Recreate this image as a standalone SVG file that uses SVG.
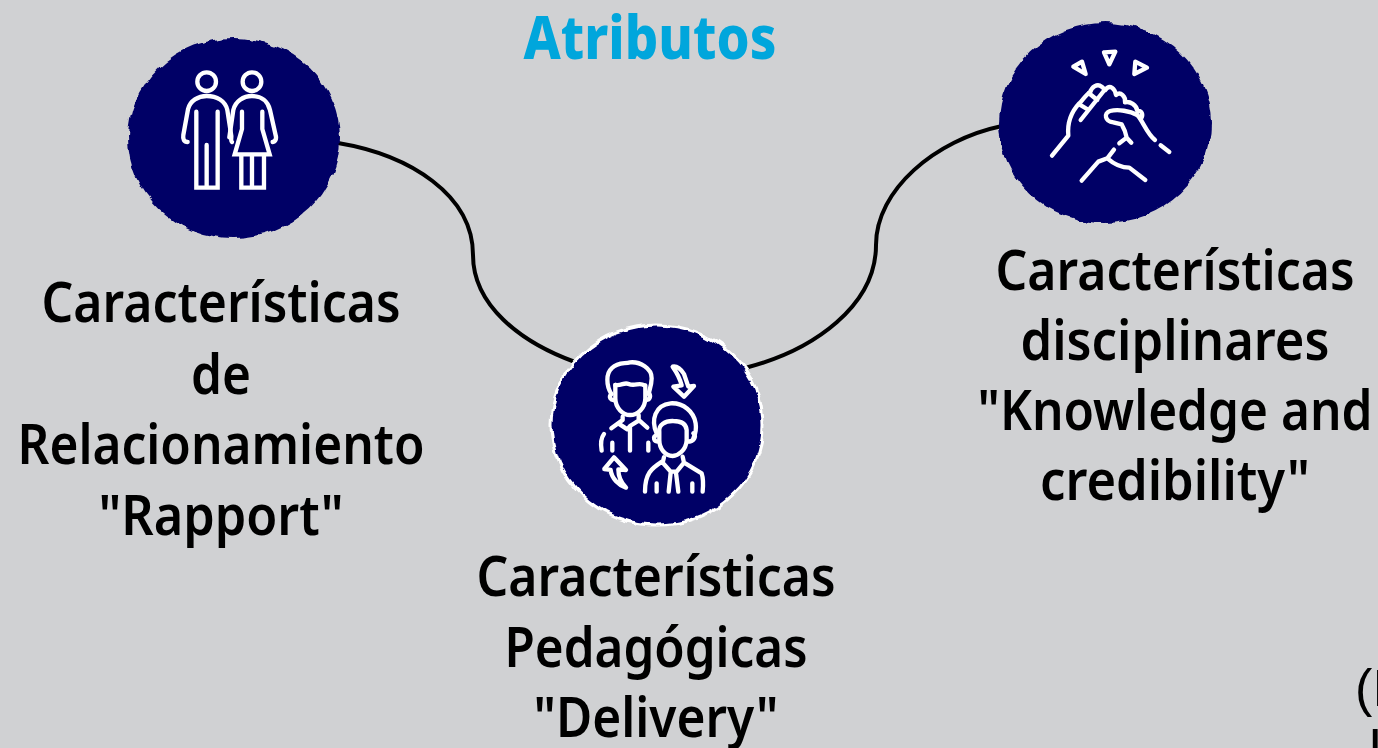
<svg xmlns="http://www.w3.org/2000/svg" width="1378" height="748" viewBox="0 0 1378 748">
<style>
.t{font-family:"Noto Sans","Open Sans",sans-serif;font-weight:600;font-size:56px;fill:#000;text-anchor:middle}
.title{font-family:"Noto Sans","Open Sans",sans-serif;font-weight:800;font-size:61px;fill:#00a6dc;text-anchor:middle}
.frag{font-family:"Liberation Sans",Arial,sans-serif;font-size:52px;fill:#000}
.blob{fill:#000066}
.ic{fill:none;stroke:#fff;stroke-width:13;stroke-linecap:round;stroke-linejoin:round}
.conn{fill:none;stroke:#000;stroke-width:4}
</style>
<defs>
<filter id="rough" x="-10%" y="-10%" width="120%" height="120%">
<feTurbulence type="fractalNoise" baseFrequency="0.07" numOctaves="2" seed="4"/>
<feDisplacementMap in="SourceGraphic" scale="7" xChannelSelector="R" yChannelSelector="G"/>
</filter>
</defs>
<rect width="1378" height="748" fill="#d0d1d3"/>
<text id="title" class="title" x="650" y="59" textLength="253" lengthAdjust="spacingAndGlyphs">Atributos</text>
<g id="connectors">
<path class="conn" d="M338,143 C410,155 473,195 473,255 C473,305 520,342 575,362"/>
<path class="conn" d="M745,368 C815,350 876,305 876,245 C876,190 935,140 1002,126"/>
</g>
<g id="node-rapport">
<ellipse class="blob" cx="234" cy="138" rx="106" ry="100" filter="url(#rough)"/>
<g class="ic" transform="translate(120,30) scale(.3333)">
<circle cx="260" cy="155" r="28"/>
<path d="M203,336 C192,336 188,328 190,315 L204,238 C210,212 235,198 260,198 C290,198 316,212 322,240 L334,318 C334,328 332,334 336,336"/>
<path d="M229,245 V473 H293 V245 M260,345 V470" stroke-linejoin="miter"/>
<circle cx="396" cy="155" r="28"/>
<path d="M328,322 L340,240 C346,214 370,198 396,198 C424,198 444,214 450,240 L468,320 C469,330 465,335 458,336"/>
<path d="M366,245 V297 L344,373 H449 L427,297 V245 M364,373 V473 H432 V373 M396,373 V470" stroke-linejoin="miter"/>
</g>
<text class="t" x="221" y="322" textLength="359" lengthAdjust="spacingAndGlyphs">Características</text>
<text class="t" x="221" y="394" textLength="60" lengthAdjust="spacingAndGlyphs">de</text>
<text class="t" x="221" y="464" textLength="407" lengthAdjust="spacingAndGlyphs">Relacionamiento</text>
<text class="t" x="221" y="535" textLength="245" lengthAdjust="spacingAndGlyphs">"Rapport"</text>
</g>
<g id="node-delivery">
<ellipse class="blob" cx="657" cy="425" rx="106" ry="100" stroke="#fff" stroke-width="3" filter="url(#rough)"/>
<g class="ic" transform="translate(540,320) scale(.3333)">
<path d="M214,222 C198,195 198,160 215,145 C235,125 252,132 270,127 C300,124 336,145 335,175 C335,195 328,210 326,222"/>
<path d="M226,195 C245,198 252,186 266,192 C285,200 298,186 313,196"/>
<path d="M226,195 V235 C226,265 250,285 270,285 C292,285 316,265 316,235 V196"/>
<path d="M214,222 C205,232 212,242 224,240 M326,218 C334,228 330,240 318,240"/>
<path d="M248,290 V300 L214,325 M296,285 V300 L322,323 M235,310 L262,328 L270,318 L296,302 M270,320 V392 M217,368 V392 M325,368 V392 M192,342 C182,355 182,375 185,392"/>
<path d="M398,140 C410,136 425,150 432,162 L445,200 L462,198 L432,230 L400,200 L425,196 C420,175 412,160 398,140Z"/>
<path d="M258,503 C235,495 215,475 212,450 L193,447 L222,412 L258,450 L235,448 C235,470 245,490 258,503Z"/>
<path d="M350,340 C332,300 345,255 392,250 C430,248 462,275 467,310 C470,330 465,345 460,355"/>
<path d="M358,335 C355,315 375,302 400,303 C420,303 438,310 440,330 V362 C438,390 415,408 398,408 C375,408 358,385 358,360Z"/>
<path d="M350,345 C338,350 340,365 356,365 M460,340 C470,350 462,365 442,365"/>
<path d="M372,412 L368,428 L392,455 L410,455 L432,428 L428,410 M366,425 C335,445 315,460 315,515 M436,430 L485,460 C490,475 490,495 488,515 M392,458 L386,515 M408,458 L415,515 M350,490 V515 M457,490 V515"/>
</g>
<text class="t" x="656" y="596" textLength="359" lengthAdjust="spacingAndGlyphs">Características</text>
<text class="t" x="656" y="667" textLength="303" lengthAdjust="spacingAndGlyphs">Pedagógicas</text>
<text class="t" x="656" y="737" textLength="245" lengthAdjust="spacingAndGlyphs">"Delivery"</text>
</g>
<g id="node-knowledge">
<ellipse class="blob" cx="1105" cy="123" rx="106" ry="100" filter="url(#rough)"/>
<g class="ic" transform="translate(990,15) scale(.3333)">
<path d="M250,155 L276,140 L287,177Z M342,112 L376,110 L358,148Z M436,140 L471,158 L433,177Z"/>
<path d="M186,422 L235,362 C232,330 240,295 268,265 C280,255 285,240 300,233 C305,215 322,205 335,215 L346,225 C360,205 375,222 378,240 C392,228 408,245 405,262 C420,258 440,270 442,288 C455,285 462,300 452,312"/>
<path d="M346,222 L272,315 M296,234 L322,255 M268,268 L296,285"/>
<path d="M442,300 C420,288 385,282 360,288 C340,295 345,320 370,322 L395,328 C405,345 408,355 410,368 L388,385 M410,368 L424,383"/>
<path d="M442,300 C460,320 470,355 495,375 M512,391 L538,411"/>
<path d="M372,404 L352,430 L325,440 L275,497 M352,430 C375,450 395,458 418,458 L466,495"/>
</g>
<text class="t" x="1175" y="290" textLength="359" lengthAdjust="spacingAndGlyphs">Características</text>
<text class="t" x="1175" y="360" textLength="309" lengthAdjust="spacingAndGlyphs">disciplinares</text>
<text class="t" x="1175" y="430" textLength="395" lengthAdjust="spacingAndGlyphs">"Knowledge and</text>
<text class="t" x="1175" y="500" textLength="270" lengthAdjust="spacingAndGlyphs">credibility"</text>
</g>
<g id="fragment">
<text class="frag" x="1355" y="706">(I</text>
<text class="frag" x="1368" y="765">I</text>
</g>
</svg>
